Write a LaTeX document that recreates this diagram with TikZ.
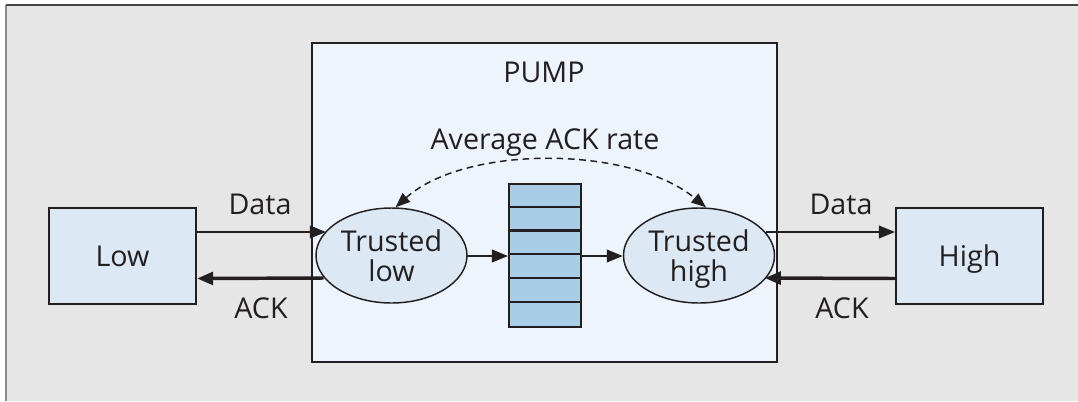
\documentclass[tikz,border=0pt]{standalone}
\usepackage{fontspec}
\setmainfont{Open Sans}
\usetikzlibrary{arrows.meta,calc,shapes.geometric}
\definecolor{bggray}{HTML}{E6E6E6}
\definecolor{framegray}{HTML}{8A8A8A}
\definecolor{ink}{HTML}{231F20}
\definecolor{pumpfill}{HTML}{EDF4FB}
\definecolor{boxfill}{HTML}{DCE9F5}
\definecolor{cellfill}{HTML}{A9CDE6}
\def\u{0.75pt}
\tikzset{
  x=0.75pt, y=-0.75pt,
  txt/.style={font=\fontsize{21.5}{24}\selectfont, text=ink, inner sep=0pt},
  endbox/.style={draw=ink, line width=1.6pt, fill=boxfill, minimum width=147*\u, minimum height=96*\u, inner sep=0pt, txt, text height=15.5pt, text depth=0pt},
  trust/.style={ellipse, draw=ink, line width=1.1pt, fill=boxfill, minimum width=151*\u, minimum height=95*\u, inner sep=0pt, align=center, txt, font=\fontsize{21.5}{22}\selectfont, text depth=0pt},
  thinarrow/.style={draw=ink, line width=1.3pt, -{Triangle[length=12pt,width=9.5pt]}},
  thickarrow/.style={draw=ink, line width=2.6pt, -{Triangle[length=12pt,width=9.5pt]}},
  rateline/.style={draw=ink, line width=1.1pt, dash pattern=on 5pt off 3.5pt, {Triangle[length=11pt,width=8.5pt]}-{Triangle[length=11pt,width=8.5pt]}}
}
\begin{document}
\begin{tikzpicture}
\useasboundingbox (0,0) rectangle (1078,401);
% backdrop and frame
\fill[white] (0,0) rectangle (1078,401);
\fill[bggray] (6,5) rectangle (1078,401);
\draw[framegray, line width=1.5pt] (6,401) -- (6,5);
\draw[ink!85, line width=1.5pt] (6,5) -- (1078,5);

% pump enclosure
\node[draw=ink, line width=2pt, fill=pumpfill, minimum width=465*\u, minimum height=319*\u, inner sep=0pt] (pump) at (544.5,202.5) {};
\node[txt] (pumplabel) at (544,72) {PUMP};

% end hosts
\node[endbox] (low) at (122.5,256) {Low};
\node[endbox] (high) at (969.5,256) {High};

% trusted processes
\node[trust] (tl) at (391.5,255.5) {Trusted\\low};
\node[trust] (th) at (699,255.5) {Trusted\\high};

% buffer queue
\node[draw=ink, line width=1.6pt, fill=cellfill, minimum width=72*\u, minimum height=143*\u, inner sep=0pt] (q) at (545,255.5) {};
\foreach \k in {1,...,5}
  \draw[ink, line width=1.6pt] ($(q.north west)+(0,23.8*\k)$) -- ($(q.north east)+(0,23.8*\k)$);

% data flow through the pump
\draw[thinarrow] ($(tl.center)+(75.5,0.5)$) -- ($(q.west)+(0,0.5)$);
\draw[thinarrow] ($(q.east)+(0,0.5)$) -- ($(th.west)+(0,0.5)$);

% low side links
\draw[thinarrow] ($(low.east)+(0,-24)$) -- ($(tl.center)+(-65.6,-23.5)$);
\draw[thickarrow] ($(tl.center)+(-68,22.5)$) -- ($(low.east)+(0,22.5)$);
\node[txt] (datal) at (260,204) {Data};
\node[txt] (ackl) at (261,308) {ACK};

% high side links
\draw[thinarrow] ($(th.center)+(67,-23.5)$) -- ($(high.west)+(0,-24)$);
\draw[thickarrow] ($(high.west)+(0,22.5)$) -- ($(th.center)+(65.8,22.5)$);
\node[txt] (datah) at (841,204) {Data};
\node[txt] (ackh) at (842,308) {ACK};

% acknowledgement rate feedback
\draw[rateline] ($(tl.north)+(4,0)$) .. controls (465,145) and (630,145) .. ($(th.north)+(7,0)$);
\node[txt] (rate) at (545,143) {Average ACK rate};
\end{tikzpicture}
\end{document}
